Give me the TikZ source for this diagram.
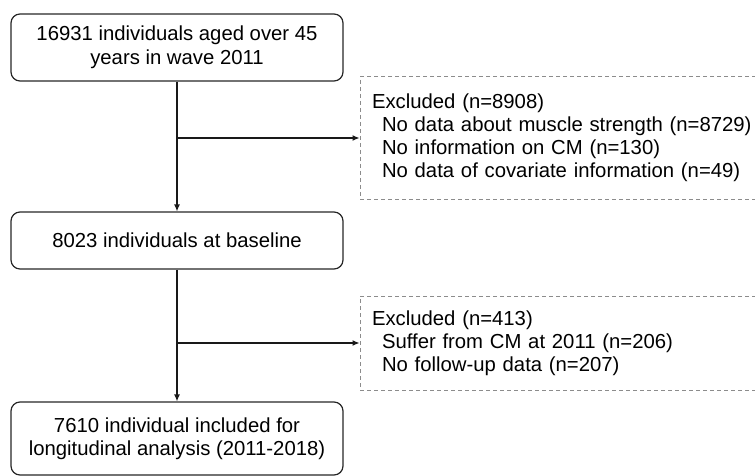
\documentclass[tikz,border=0pt]{standalone}
\usepackage{fontspec}
\setmainfont{Liberation Sans}
\usetikzlibrary{arrows.meta}
\tikzset{
  stagebox/.style={draw=black!85, line width=1.2pt, rounded corners=9pt,
    minimum width=332pt, align=center, inner sep=0pt,
    font=\fontsize{20.3}{23.5}\selectfont},
  exclbox/.style={draw=black!45, line width=1pt, dash pattern=on 4pt off 3pt,
    text width=386pt, inner xsep=12pt, inner ysep=0pt, align=left,
    font=\fontsize{20.3}{23}\selectfont},
  flow/.style={line width=1.2pt, draw=black!90, -{Latex[length=7pt,width=6pt]}}
}
\begin{document}
\begin{tikzpicture}[x=1pt,y=-1pt]
  \useasboundingbox (0,0) rectangle (755,476);
  \node[stagebox, minimum height=67pt] (cohort) at (177,47.5)
    {16931 individuals aged over 45\\years in wave 2011};
  \node[stagebox, minimum height=57pt] (baseline) at (177,240.5)
    {8023 individuals at baseline};
  \node[stagebox, minimum height=73pt] (final) at (177,438.5)
    {7610 individual included for\\longitudinal analysis (2011-2018)};
  % exclusion boxes, right side runs off the page
  \node[exclbox, minimum height=122pt] (exclA) at (565,138)
    {Excluded (n=8908)\\
     \hspace*{10pt}No data about muscle strength (n=8729)\\
     \hspace*{10pt}No information on CM (n=130)\\
     \hspace*{10pt}No data of covariate information (n=49)};
  \node[exclbox, minimum height=94pt] (exclB) at (565,343)
    {Excluded (n=413)\\
     \hspace*{10pt}Suffer from CM at 2011 (n=206)\\
     \hspace*{10pt}No follow-up data (n=207)};
  \draw[flow] (cohort) -- (baseline);
  \draw[flow] (cohort.south |- exclA.west) -- (exclA.west);
  \draw[flow] (baseline) -- (final);
  \draw[flow] (baseline.south |- exclB.west) -- (exclB.west);
\end{tikzpicture}
\end{document}
